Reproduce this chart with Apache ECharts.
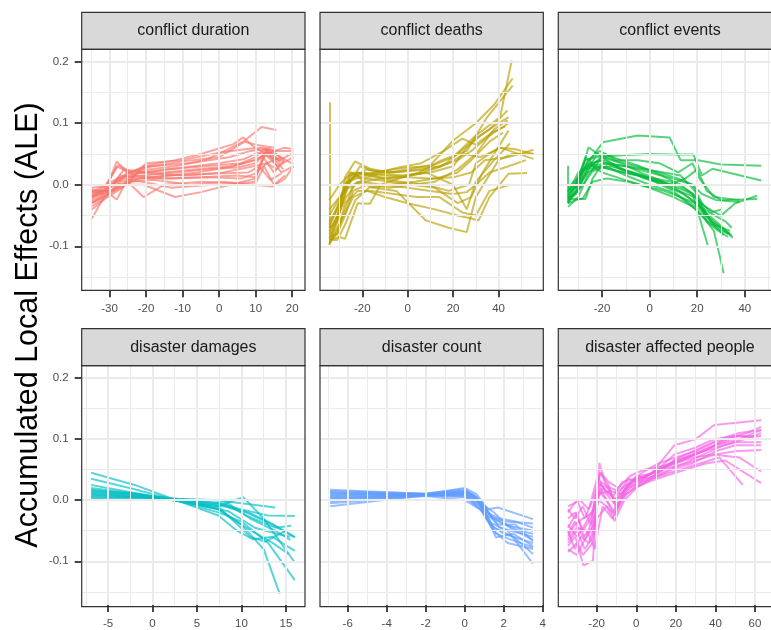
<!DOCTYPE html>
<html><head><meta charset="utf-8">
<script src="https://cdn.jsdelivr.net/npm/echarts@6/dist/echarts.min.js"></script>
<style>html,body{margin:0;padding:0;background:#fff}#c{width:771px;height:630px}</style>
</head><body><div id="c"></div><script>
// ---------- data ----------
const panelTitles = ['conflict duration','conflict deaths','conflict events','disaster damages','disaster count','disaster affected people'];
const panelColors = ['#F8766D','#B79F00','#00BA38','#00BFC4','#619CFF','#F564E3'];
const yTickLabels = [-0.1, 0.0, 0.1, 0.2];
const xTickLabels = [
  [-30,-20,-10,0,10,20],
  [-20,0,20,40],
  [-20,0,20,40],
  [-5,0,5,10,15],
  [-6,-4,-2,0,2,4],
  [-20,0,20,40,60]
];
const durationLines = [
 [[-34.8,-0.018],[-31,-0.008],[-28,0.038],[-25,0.018],[-20.7,0.03],[-12,0.04],[-5,0.05],[3.9,0.066],[6.6,0.077],[9.8,0.06],[13,0.05],[17.6,0.06],[20.3,0.058]],
 [[-34.8,-0.025],[-30.7,-0.012],[-28,-0.024],[-25,0.01],[-20.7,0.024],[-12,0.03],[-3,0.042],[6.6,0.07],[11.6,0.094],[15.7,0.089]],
 [[-34.8,-0.055],[-31.5,-0.02],[-27,0.0],[-20.7,0.0],[-12,-0.02],[-5,-0.012],[3,0.0],[9.8,0.01],[13,0.056],[16.5,0.04],[20.3,0.052]],
 [[-34.8,-0.01],[-29,-0.01],[-25,0.005],[-20.7,-0.02],[-15,0.0],[-5,0.005],[5,0.002],[9.8,0.005],[12.5,0.058],[17.6,0.025]],
 [[-34.8,-0.03],[-30,-0.015],[-25.5,0.0],[-20,0.035],[-10,0.04],[0,0.052],[7.5,0.058],[12,0.06],[15.5,0.05],[20.3,0.033]],
 [[-34.8,-0.015],[-30,-0.005],[-26,0.012],[-20.7,0.015],[-12,0.02],[-3,0.025],[5,0.028],[10,0.035],[13,0.055],[17,0.02],[20.3,0.03]],
 [[-34.8,-0.02],[-31,-0.01],[-27,0.015],[-21,0.01],[-15,0.01],[-5,0.012],[5,0.015],[9.8,0.012],[13.5,0.06],[17.6,0.04]],
 [[-34.8,-0.008],[-30.5,-0.01],[-26,0.025],[-20,0.02],[-10,0.028],[0,0.035],[7,0.042],[10.5,0.052],[14,0.045],[17.6,0.038]],
 [[-34.8,-0.035],[-31,-0.02],[-28,0.0],[-24,0.005],[-18,0.008],[-8,0.0],[1,0.005],[9.8,0.0],[14.5,-0.003],[18,0.01],[20.3,0.03]],
 [[-34.8,-0.012],[-32,-0.015],[-28,0.03],[-23,0.015],[-18,0.012],[-6,0.02],[4,0.03],[9.8,0.04],[12,0.045],[15,0.02],[18,0.04]],
 [[-34.8,-0.022],[-30,-0.003],[-25,0.02],[-19,0.03],[-8,0.035],[3,0.045],[8.5,0.055],[12.6,0.058],[16,0.055],[20.3,0.055]],
 [[-34.8,-0.028],[-31,-0.018],[-27,0.005],[-22,0.01],[-14,0.015],[-2,0.018],[8,0.02],[11,0.03],[14,0.008],[17,0.018]],
 [[-34.8,-0.005],[-31,-0.002],[-26,0.01],[-21,0.005],[-13,-0.005],[-2,0.0],[9.8,0.0],[12.3,0.03],[15,0.0],[18,0.015]],
 [[-34.8,-0.04],[-31,-0.022],[-26.5,-0.005],[-22,0.02],[-14,0.025],[-4,0.03],[6,0.035],[10,0.045],[12.8,0.06],[16.8,0.035]],
 [[-34.8,-0.018],[-29.5,0.005],[-24,0.02],[-18,0.018],[-9,0.015],[1,0.02],[9.5,0.03],[13,0.035],[16,0.025]],
 [[-34.8,-0.012],[-31,0.0],[-27.5,0.032],[-24,0.02],[-20,0.028],[-10,0.038],[0,0.045],[7,0.07],[10,0.065],[15,0.06]],
 [[-34.8,-0.02],[-31,-0.012],[-27.5,0.01],[-22,0.02],[-15,0.02],[-6,0.025],[3,0.03],[9.8,0.04],[12.5,0.05],[16,0.03],[20.3,0.045]],
 [[-34.8,-0.03],[-30.5,-0.012],[-26,0.0],[-21,0.012],[-13,0.01],[-3,0.012],[6,0.01],[9.8,0.018],[13,0.035],[17,0.045]]
];
const deathsLines = [
 [[-34.2,0.134],[-34.2,-0.09],[-31,-0.05],[-27.6,0.0],[-22,0.015],[-15,0.02],[-6,0.025],[0,0.028],[10,0.03],[20,0.045],[30,0.08],[40.7,0.11],[45.8,0.202]],
 [[-34.5,-0.098],[-31,-0.06],[-27.6,0.012],[-23.2,0.038],[-16.6,0.026],[-8,0.02],[0,0.025],[10,0.032],[20,0.072],[30,0.1],[38,0.13],[46.2,0.173]],
 [[-34.5,-0.09],[-30,-0.085],[-27.6,-0.088],[-22,-0.03],[-16.6,-0.031],[-12,0.0],[-4,0.01],[5,0.02],[15,0.04],[26,0.055],[35,0.11],[46.2,0.161]],
 [[-34.5,-0.06],[-31,-0.04],[-27,0.0],[-22,0.02],[-14,0.012],[-5,0.01],[5,0.018],[15,0.03],[22,0.05],[30,0.075],[36,0.09],[43.9,0.121]],
 [[-34.5,-0.08],[-31,-0.05],[-27,-0.02],[-22,0.005],[-15,-0.005],[-5,-0.01],[8,-0.058],[18,-0.07],[26,-0.077],[30,-0.02],[40,0.04],[46,0.05],[55.4,0.05]],
 [[-34.5,-0.025],[-30,0.0],[-26,0.015],[-20,0.02],[-10,0.015],[0,0.012],[10,0.01],[20,0.012],[28,0.02],[34,0.04],[44.4,0.045],[55.4,0.057]],
 [[-34.5,-0.095],[-31,-0.075],[-27.6,-0.04],[-24,0.0],[-18,0.01],[-8,0.005],[2,0.0],[12,-0.005],[22,-0.03],[28,-0.02],[33,0.02],[44.4,0.088]],
 [[-34.5,-0.07],[-30,-0.03],[-25.4,0.02],[-19.5,0.01],[-12,0.018],[-2,0.015],[8,0.02],[20,0.0],[26,-0.04],[30,0.005],[38,0.04],[45,0.067]],
 [[-34.5,-0.085],[-31,-0.08],[-27.6,-0.03],[-22,-0.01],[-16,-0.01],[-6,-0.015],[4,-0.02],[14,-0.02],[24,-0.045],[30,-0.05],[36,-0.01],[44.4,-0.001]],
 [[-34.5,-0.05],[-29,-0.015],[-24,0.012],[-18,0.025],[-10,0.02],[0,0.022],[10,0.025],[18,0.035],[25,0.05],[32,0.045],[41,0.06],[55.4,0.042]],
 [[-34.5,-0.097],[-31,-0.07],[-28,-0.05],[-24,-0.02],[-18,-0.01],[-10,-0.02],[0,-0.03],[12,-0.04],[22,-0.05],[28,-0.055],[31.2,-0.058],[36,-0.02],[44.4,0.018],[52.5,0.019]],
 [[-34.5,-0.075],[-30,-0.045],[-26,0.0],[-21,0.03],[-15,0.022],[-6,0.02],[4,0.025],[14,0.03],[22,0.04],[28,0.055],[36,0.08],[44.4,0.1]],
 [[-34.5,-0.04],[-30,-0.02],[-26,-0.005],[-20,0.005],[-12,0.0],[0,-0.005],[10,-0.01],[20,-0.015],[26,-0.012],[30,0.0],[36,0.02],[44.4,0.03],[52,0.04]],
 [[-34.5,-0.088],[-31.3,-0.06],[-28,-0.02],[-25,0.02],[-19,0.005],[-12,0.01],[-3,0.005],[8,0.0],[18,-0.01],[27,0.0],[30,0.035],[40,0.06],[47,0.058],[55.4,0.05]],
 [[-34.5,-0.065],[-31,-0.035],[-27,0.005],[-21,0.012],[-13,0.02],[-4,0.028],[6,0.035],[16,0.055],[24,0.075],[30,0.065],[37,0.085],[43,0.095]],
 [[-34.5,-0.09],[-31,-0.09],[-27.6,-0.065],[-23,-0.025],[-17,-0.005],[-8,0.0],[3,0.005],[12,0.01],[22,0.02],[28,0.04],[36,0.07],[42,0.085]],
 [[-34.5,-0.07],[-31,-0.06],[-28,-0.015],[-24,0.02],[-18,0.018],[-10,0.01],[0,0.015],[10,0.02],[20,0.03],[26,0.06],[32,0.08],[40,0.1],[44.4,0.11]],
 [[-34.5,-0.093],[-31,-0.08],[-27.6,-0.05],[-24,-0.01],[-18,0.0],[-8,-0.005],[2,0.0],[12,0.005],[22,0.025],[30,0.05],[38,0.09],[44,0.105]]
];
const eventsLines = [
 [[-34.3,0.031],[-34.3,-0.03],[-31,0.0],[-27,0.03],[-19.7,0.069],[-5,0.08],[8.4,0.077],[13,0.04],[20.4,0.04],[30,0.033],[46.9,0.031]],
 [[-34.3,-0.01],[-31,0.005],[-27,0.04],[-22,0.045],[-12,0.048],[-0.3,0.05],[10,0.049],[18.4,0.049],[22,0.015],[26.4,0.026],[46.9,0.007]],
 [[-34.3,-0.023],[-27,-0.023],[-24,0.01],[-19.7,0.035],[-10,0.03],[0,0.02],[10,0.01],[18,0.0],[22,-0.015],[28,-0.025],[37.8,-0.028]],
 [[-34.3,-0.03],[-31,-0.01],[-25.7,0.061],[-20,0.045],[-12,0.025],[-3,0.015],[6,0.0],[14,-0.015],[20,-0.03],[26,-0.06],[33.8,-0.08]],
 [[-34.3,-0.015],[-30,0.0],[-26,0.02],[-21,0.03],[-14,0.022],[-5,0.015],[5,0.005],[12,-0.01],[19,-0.02],[24,-0.05],[30,-0.07],[35,-0.086]],
 [[-34.3,-0.02],[-31,-0.015],[-27.5,0.025],[-22,0.028],[-16,0.03],[-8,0.02],[2,0.005],[10,-0.01],[16,-0.03],[21,-0.045],[27,-0.075],[31.1,-0.144]],
 [[-34.3,-0.036],[-30,-0.02],[-26,0.015],[-20,0.045],[-12,0.035],[-4,0.02],[4,0.008],[12,-0.005],[18,-0.015],[24.4,-0.098]],
 [[-34.3,-0.005],[-30,0.012],[-25,0.035],[-19,0.04],[-11,0.025],[-2,0.01],[8,0.0],[15,0.01],[20,0.025],[24,-0.01],[30,-0.025],[45.2,-0.023]],
 [[-34.3,-0.025],[-29,-0.005],[-24,0.022],[-18,0.03],[-10,0.015],[0,0.0],[8,-0.01],[15,-0.025],[21,-0.04],[27,-0.065],[33.8,-0.075]],
 [[-34.3,-0.02],[-30,0.01],[-26,0.035],[-20,0.02],[-12,0.01],[-4,0.0],[6,-0.01],[13,-0.02],[19,-0.03],[25,-0.045],[32,-0.06],[34.5,-0.07]],
 [[-34.3,-0.01],[-31,-0.005],[-27,0.02],[-22,0.05],[-15,0.04],[-6,0.03],[4,0.02],[12,0.01],[18,0.0],[22,-0.03],[26,-0.045],[30,-0.04]],
 [[-34.3,-0.03],[-31,-0.025],[-28,-0.022],[-24,0.005],[-18,0.01],[-9,0.005],[0,-0.005],[10,-0.02],[18,-0.035],[23,-0.055],[28,-0.07],[33,-0.08]],
 [[-34.3,-0.018],[-30,0.005],[-26,0.04],[-21,0.055],[-14,0.04],[-5,0.04],[4,0.035],[12,0.02],[18,0.035],[21,0.01],[27,-0.02],[37.8,-0.025]],
 [[-34.3,-0.012],[-30,0.02],[-25,0.03],[-18,0.035],[-10,0.03],[-2,0.025],[6,0.02],[13,0.015],[19,-0.01],[24,-0.06],[29,-0.075],[33,-0.085]],
 [[-34.3,-0.028],[-30,-0.01],[-26,0.03],[-21,0.04],[-15,0.03],[-7,0.02],[1,0.01],[9,0.0],[16,-0.02],[22,-0.04],[28,-0.06],[34.5,-0.083]],
 [[-34.3,-0.008],[-31,0.0],[-27,0.045],[-23,0.03],[-16,0.025],[-8,0.018],[0,0.012],[9,0.005],[17,-0.012],[23,-0.035],[30,-0.05],[36,-0.03],[45.2,-0.018]],
 [[-34.3,-0.022],[-30,-0.006],[-25,0.028],[-19,0.05],[-12,0.04],[-4,0.03],[5,0.015],[13,0.0],[20,-0.02],[25,-0.055],[31,-0.082]]
];
const damagesLines = [
 [[-6.9,0.045],[-2,0.025],[2.3,0.002],[7.4,-0.015],[10,-0.04],[12.5,-0.08],[14.3,-0.153]],
 [[-6.9,0.035],[-2,0.018],[2.3,0.001],[7.4,-0.02],[10,-0.035],[13,-0.07],[16,-0.131]],
 [[-6.9,0.025],[-2,0.012],[2.3,0.0],[7.4,-0.01],[10.2,0.005],[12.5,-0.03],[16,-0.102]],
 [[-6.9,0.017],[-2,0.01],[2.3,0.002],[7,0.0],[10,-0.005],[13.8,-0.012]],
 [[-6.9,0.012],[-2,0.008],[2.3,0.003],[7.4,-0.005],[10,-0.015],[13,-0.025],[16,-0.026]],
 [[-6.9,0.009],[-1,0.005],[2.5,0.0],[8,-0.01],[10.5,-0.02],[13.5,-0.04],[16,-0.061]],
 [[-6.9,0.005],[-1,0.004],[2.5,0.001],[7.4,-0.025],[9.5,-0.05],[11.3,-0.064],[13.5,-0.06],[16,-0.083]],
 [[-6.9,0.014],[-1.5,0.008],[2.5,0.0],[8,-0.005],[10.5,-0.025],[13.8,-0.045],[15.6,-0.042]],
 [[-6.9,0.003],[-1,0.003],[2.5,0.002],[8,0.0],[11,-0.03],[13.8,-0.05],[15.5,-0.065]],
 [[-6.9,0.01],[-1.5,0.006],[2.5,0.0],[7.5,-0.015],[10.5,-0.045],[13.5,-0.07],[15.3,-0.088]],
 [[-6.9,0.02],[-1.5,0.01],[2.5,0.001],[7.8,-0.008],[10.8,-0.02],[13,-0.035],[16,-0.06]],
 [[-6.9,0.007],[-1,0.005],[2.3,0.0],[7.5,-0.012],[11,-0.06],[12.7,-0.068],[15,-0.05]],
 [[-6.9,0.016],[-2,0.01],[2.3,0.001],[8.5,-0.018],[11.5,-0.045],[14,-0.055],[15.5,-0.06]]
];
const countLines = [
 [[-6.9,0.017],[-2,0.01],[0,0.02],[0.6,0.01],[1.2,-0.015],[1.7,-0.012],[3.5,-0.031]],
 [[-6.9,0.012],[-2,0.009],[0,0.012],[0.8,0.0],[1.4,-0.03],[1.8,-0.045],[3.5,-0.06]],
 [[-6.9,-0.01],[-2,0.008],[0,0.005],[1.0,-0.02],[1.6,-0.061],[2.5,-0.055],[3.5,-0.075]],
 [[-6.9,0.005],[-2,0.009],[0,0.015],[0.5,0.008],[1.2,-0.035],[2.2,-0.05],[3.5,-0.104]],
 [[-6.9,0.0],[-2,0.008],[0,0.01],[0.7,0.0],[1.3,-0.025],[2,-0.04],[3.5,-0.05]],
 [[-6.9,0.008],[-2,0.01],[0,0.008],[0.9,-0.01],[1.5,-0.045],[2.5,-0.06],[3.5,-0.088]],
 [[-6.9,0.015],[-2,0.011],[0,0.018],[0.6,0.005],[1.1,-0.02],[1.8,-0.03],[2.6,-0.035],[3.5,-0.045]],
 [[-6.9,-0.005],[-2,0.007],[0,0.0],[0.8,-0.015],[1.5,-0.05],[2.2,-0.07],[3.5,-0.08]],
 [[-6.9,0.003],[-2,0.009],[0,0.013],[1.0,-0.01],[1.7,-0.04],[2.6,-0.04],[3.5,-0.067]],
 [[-6.9,0.01],[-2,0.01],[0,0.016],[0.7,0.002],[1.4,-0.028],[2.1,-0.035],[3.5,-0.038]],
 [[-6.9,-0.002],[-2,0.008],[0,0.006],[0.9,-0.012],[1.6,-0.055],[2.4,-0.065],[3.5,-0.077]],
 [[-6.9,0.007],[-2,0.009],[0,0.011],[1.1,-0.025],[1.8,-0.035],[2.8,-0.05],[3.5,-0.055]],
 [[-6.9,0.013],[-2,0.01],[0,0.014],[0.6,0.004],[1.3,-0.04],[2,-0.055],[3.5,-0.07]],
 [[-6.9,0.002],[-2,0.008],[0,0.009],[0.8,-0.005],[1.5,-0.02],[2.3,-0.045],[3.5,-0.065]]
];
const affectedLines = [
 [[-34.5,-0.01],[-28.3,0.0],[-24,-0.015],[-19.5,0.039],[-15,0.01],[-11.2,-0.005],[-5,0.02],[0,0.03],[8,0.045],[19.3,0.09],[30,0.1],[39.4,0.123],[63.1,0.131]],
 [[-34.5,-0.085],[-30,-0.07],[-26.7,-0.107],[-21.9,-0.099],[-18.6,0.061],[-16,0.03],[-11,0.0],[-4,0.035],[2,0.03],[10,0.05],[20,0.06],[30,0.075],[40,0.09],[52,0.1],[63.1,0.115]],
 [[-34.5,-0.06],[-31,-0.04],[-27,-0.03],[-22,-0.02],[-18,0.02],[-12,-0.02],[-6,0.015],[0,0.04],[6,0.035],[14,0.05],[24,0.06],[34,0.075],[44,0.09],[55,0.1],[63.1,0.11]],
 [[-34.5,-0.03],[-31,-0.02],[-27,-0.05],[-23,-0.03],[-19,0.025],[-14,0.02],[-10,-0.01],[-4,0.02],[3,0.03],[12,0.04],[22,0.05],[32,0.06],[42,0.07],[53.8,0.025]],
 [[-34.5,-0.05],[-31,-0.08],[-28,-0.06],[-24,-0.07],[-20,-0.03],[-15,-0.01],[-11,-0.034],[-6,0.0],[0,0.02],[8,0.035],[18,0.05],[28,0.06],[40,0.08],[50,0.09],[63.1,0.09]],
 [[-34.5,-0.07],[-30,-0.05],[-26,-0.08],[-22,-0.06],[-19,0.01],[-13,0.015],[-8,0.01],[-2,0.03],[5,0.04],[14,0.055],[25,0.07],[36,0.085],[48,0.1],[63.1,0.1]],
 [[-34.5,-0.02],[-30,0.0],[-26,-0.03],[-22,0.0],[-18,0.045],[-14,0.03],[-9,0.02],[-3,0.04],[4,0.05],[12,0.055],[22,0.065],[34,0.08],[45,0.1],[56,0.11],[63.1,0.12]],
 [[-34.5,-0.04],[-30,-0.06],[-26,-0.04],[-21,-0.01],[-17,0.02],[-12,0.005],[-7,0.03],[0,0.035],[9,0.045],[19.3,0.075],[29,0.085],[39.4,0.1],[50,0.105],[63.1,0.105]],
 [[-34.5,-0.08],[-30,-0.09],[-27,-0.07],[-23,-0.05],[-19,0.0],[-15,-0.01],[-11,-0.025],[-5,0.01],[1,0.025],[10,0.04],[20,0.055],[30,0.065],[40,0.075],[50,0.08],[63.1,0.082]],
 [[-34.5,-0.015],[-31,-0.03],[-27,-0.01],[-23,-0.04],[-19.5,0.03],[-15,0.015],[-10,0.0],[-4,0.025],[2,0.04],[10,0.045],[19,0.06],[29,0.07],[39,0.075],[52,0.07],[63.1,0.047]],
 [[-34.5,-0.055],[-31,-0.035],[-27,-0.06],[-22,-0.045],[-18,0.03],[-13,0.02],[-9,0.015],[-3,0.03],[3,0.045],[11,0.06],[20,0.07],[30,0.08],[40,0.095],[52,0.105],[63.1,0.1]],
 [[-34.5,-0.065],[-30,-0.045],[-25,-0.05],[-21,-0.08],[-17,-0.01],[-12,-0.03],[-7,0.005],[-1,0.02],[6,0.03],[15,0.04],[25,0.05],[35,0.06],[45,0.065],[63.1,0.028]],
 [[-34.5,-0.045],[-30,-0.02],[-26,-0.065],[-22,-0.03],[-18.5,0.045],[-14,0.025],[-10,-0.015],[-5,0.025],[2,0.035],[12,0.05],[22,0.07],[32,0.085],[42,0.1],[52,0.11],[63.1,0.115]],
 [[-34.5,-0.075],[-31,-0.06],[-27,-0.09],[-22,-0.07],[-19,0.015],[-15,0.0],[-11,-0.02],[-5,0.015],[1,0.03],[9,0.04],[19,0.065],[29,0.075],[39,0.085],[50,0.095],[63.1,0.095]]
];
const panelLines = [durationLines, deathsLines, eventsLines, damagesLines, countLines, affectedLines];

// ---------- layout ----------
const xRanges = [[-37.6,23.5],[-38.6,59.7],[-38.4,51.0],[-7.96,17.15],[-7.42,4.03],[-39.4,68.1]];
const yRange = [-0.1716, 0.2202];
const colLeft = [81.7, 320, 558.3];
const rowTop = [49.3, 365.7];
const panelW = 223.3, panelH = 241, stripH = 37;
const FONT = 'Liberation Sans, Arial, Helvetica, sans-serif';

function minors(ticks, lo, hi) {
  const s = ticks[1] - ticks[0];
  const out = [];
  for (let v = ticks[0] - s / 2; v < hi; v += s) if (v > lo) out.push(+v.toFixed(6));
  return out;
}

const grids = [], xAxes = [], yAxes = [], series = [], graphics = [];
for (let i = 0; i < 6; i++) {
  const r = Math.floor(i / 3), c = i % 3;
  const left = colLeft[c], top = rowTop[r];
  grids.push({left: left, top: top, width: panelW, height: panelH, show: false, containLabel: false});
  xAxes.push({
    type: 'value', gridIndex: i, min: xRanges[i][0], max: xRanges[i][1], position: 'bottom',
    axisLine: {show: false, onZero: false},
    axisTick: {show: true, customValues: xTickLabels[i], length: 7, lineStyle: {color: '#333333', width: 1.8}},
    axisLabel: {show: true, customValues: xTickLabels[i], color: '#4D4D4D', fontSize: 11.5, fontFamily: FONT, margin: 13,
      formatter: v => String(v)},
    splitLine: {show: false}, minorSplitLine: {show: false}
  });
  const showY = c === 0;
  yAxes.push({
    type: 'value', gridIndex: i, min: yRange[0], max: yRange[1], position: 'left',
    axisLine: {show: false, onZero: false},
    axisTick: {show: showY, customValues: yTickLabels, length: 7, lineStyle: {color: '#333333', width: 1.8}},
    axisLabel: {show: showY, customValues: yTickLabels, color: '#4D4D4D', fontSize: 11.5, fontFamily: FONT, margin: 13,
      formatter: v => v.toFixed(1)},
    splitLine: {show: false}, minorSplitLine: {show: false}
  });
  // grid lines
  const ml = [];
  minors(xTickLabels[i], xRanges[i][0], xRanges[i][1]).forEach(v => ml.push({xAxis: v, lineStyle: {width: 1}}));
  minors(yTickLabels, yRange[0], yRange[1]).forEach(v => ml.push({yAxis: v, lineStyle: {width: 1}}));
  xTickLabels[i].forEach(v => ml.push({xAxis: v, lineStyle: {width: 2}}));
  yTickLabels.forEach(v => ml.push({yAxis: v, lineStyle: {width: 2}}));
  series.push({
    type: 'line', xAxisIndex: i, yAxisIndex: i, data: [], z: 1, silent: true,
    markLine: {silent: true, symbol: 'none', animation: false, label: {show: false},
      lineStyle: {color: '#EBEBEB', type: 'solid'}, emphasis: {disabled: true}, data: ml}
  });
  panelLines[i].forEach(line => {
    series.push({
      type: 'line', xAxisIndex: i, yAxisIndex: i, data: line, z: 3, silent: true,
      showSymbol: false, symbol: 'none',
      lineStyle: {color: panelColors[i], width: 2, opacity: 0.65},
      emphasis: {disabled: true}
    });
  });
  // strip + border
  graphics.push({type: 'rect', z: 100, shape: {x: left, y: top - stripH, width: panelW, height: stripH},
    style: {fill: '#D9D9D9', stroke: '#333333', lineWidth: 1.2}});
  graphics.push({type: 'text', z: 101, x: left + panelW / 2, y: top - stripH / 2,
    style: {text: panelTitles[i], fill: '#1A1A1A', font: '16px ' + FONT, textAlign: 'center', textVerticalAlign: 'middle'}});
  graphics.push({type: 'rect', z: 100, shape: {x: left, y: top, width: panelW, height: panelH},
    style: {fill: 'none', stroke: '#333333', lineWidth: 1.2}});
}
graphics.push({type: 'text', z: 101, x: 29, y: 325, rotation: Math.PI / 2,
  style: {text: 'Accumulated Local Effects (ALE)', fill: '#000000', font: '30.5px ' + FONT, textAlign: 'center', textVerticalAlign: 'middle'}});

const chart = echarts.init(document.getElementById('c'), null, {renderer: 'canvas'});
chart.setOption({
  animation: false,
  backgroundColor: '#ffffff',
  grid: grids, xAxis: xAxes, yAxis: yAxes, series: series, graphic: graphics
});
</script></body></html>
